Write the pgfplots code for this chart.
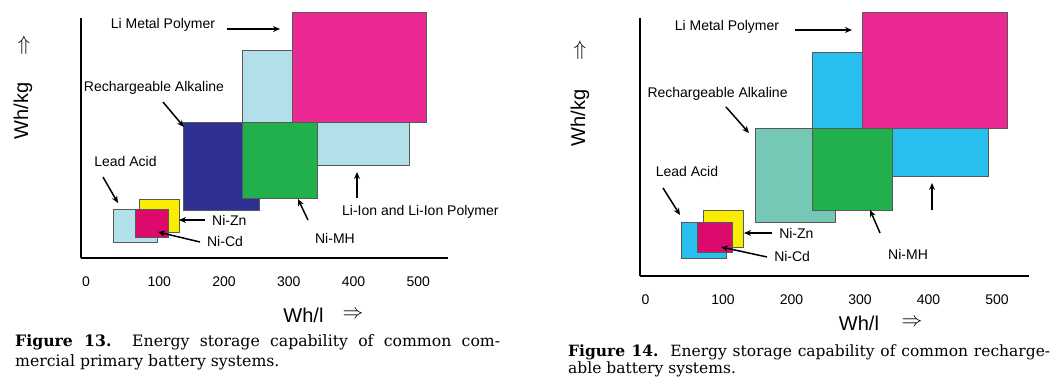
\documentclass[border=0pt]{standalone}
\usepackage{fontspec}
\setmainfont{Liberation Sans}
\newfontfamily\capfont{DejaVu Serif}
\usepackage{pgfplots}
\pgfplotsset{compat=1.18}
\usetikzlibrary{arrows.meta}
\definecolor{lb}{RGB}{178,224,232}
\definecolor{cy}{RGB}{40,190,238}
\definecolor{lmp}{RGB}{236,40,148}
\definecolor{nicd}{RGB}{220,10,108}
\definecolor{nizn}{RGB}{250,238,0}
\definecolor{alk}{RGB}{46,49,146}
\definecolor{teal}{RGB}{118,200,182}
\definecolor{nimh}{RGB}{34,176,76}
\tikzset{
 rect/.style={draw=black!65, line width=0.8pt},
 ann/.style={-{Stealth[length=7pt,width=6pt]}, line width=1.5pt, black},
 lab/.style={font=\fontsize{14}{16}\selectfont},
 big/.style={font=\fontsize{20}{24}\selectfont},
 captxt/.style={anchor=base west, inner sep=0pt, font=\capfont\fontsize{15.7}{18}\selectfont}
}
\pgfplotsset{
 chart/.style={scale only axis, enlargelimits=false, clip=false,
   axis x line*=bottom, axis y line*=left,
   axis line style={line width=2pt, black},
   ytick=\empty, xtick={-13,100,200,300,400,500},
   xticklabels={0,100,200,300,400,500}, xtick style={draw=none},
   xticklabel style={font=\fontsize{14}{16}\selectfont, yshift=-15pt}}
}
\begin{document}
\begin{tikzpicture}
\path[use as bounding box] (0,0) rectangle (1063pt,387pt);
% ---------------- Figure 13 ----------------
\begin{axis}[chart, at={(81pt,129pt)}, anchor=south west,
  width=367pt, height=240pt, xmin=-20.8, xmax=546, ymin=0, ymax=240]
\addplot[rect, fill=lb] coordinates {(229,93) (487,93) (487,208) (229,208)} -- cycle;
\addplot[rect, fill=lmp] coordinates {(305,136) (513,136) (513,246) (305,246)} -- cycle;
\addplot[rect, fill=alk] coordinates {(138,48) (254,48) (254,136) (138,136)} -- cycle;
\addplot[rect, fill=nimh] coordinates {(229,60) (345,60) (345,136) (229,136)} -- cycle;
\addplot[rect, fill=lb] coordinates {(30,16) (97,16) (97,49) (30,49)} -- cycle;
\addplot[rect, fill=nizn] coordinates {(70,26) (130.5,26) (130.5,59) (70,59)} -- cycle;
\addplot[rect, fill=nicd] coordinates {(62.5,21) (113.5,21) (113.5,49) (62.5,49)} -- cycle;
\node[lab] at (axis cs:105.8,233) {Li Metal Polymer};
\draw[ann] (axis cs:204.6,229) -- (axis cs:286.5,229);
\node[lab] at (axis cs:91.9,170) {Rechargeable Alkaline};
\draw[ann] (axis cs:105.8,156) -- (axis cs:138.2,131);
\node[lab] at (axis cs:47.9,96) {Lead Acid};
\draw[ann] (axis cs:13.1,81) -- (axis cs:36.3,55);
\node[lab, anchor=west, inner sep=0pt] at (axis cs:181.5,38) {Ni-Zn};
\draw[ann] (axis cs:170.7,38) -- (axis cs:130.5,38);
\node[lab, anchor=west, inner sep=0pt] at (axis cs:173.7,16) {Ni-Cd};
\draw[ann] (axis cs:162.9,16) -- (axis cs:98.1,26);
\node[lab, anchor=west, inner sep=0pt] at (axis cs:340.5,20) {Ni-MH};
\draw[ann] (axis cs:329.7,38) -- (axis cs:314.3,59);
\node[lab, anchor=west, inner sep=0pt] at (axis cs:382.2,46) {Li-Ion and Li-Ion Polymer};
\draw[ann] (axis cs:405.4,60) -- (axis cs:405.4,86);
\node[big] at (axis cs:322.8,-57) {Wh/l};
\node[big] at (axis cs:399.2,-57) {$\Rightarrow$};
\node[big, rotate=90] at (axis cs:-110.4,147) {Wh/kg};
\node[big] at (axis cs:-108.9,213) {$\Uparrow$};
\end{axis}
% ---------------- Figure 14 ----------------
\begin{axis}[chart, at={(640pt,111pt)}, anchor=south west,
  width=389pt, height=258pt, xmin=-21.2, xmax=546.7, ymin=0, ymax=258]
\addplot[rect, fill=cy] coordinates {(230,100) (488,100) (488,224) (230,224)} -- cycle;
\addplot[rect, fill=lmp] coordinates {(304,148) (514.5,148) (514.5,264) (304,264)} -- cycle;
\addplot[rect, fill=teal] coordinates {(146.7,54) (263.5,54) (263.5,148) (146.7,148)} -- cycle;
\addplot[rect, fill=nimh] coordinates {(230,66) (346.7,66) (346.7,148) (230,148)} -- cycle;
\addplot[rect, fill=cy] coordinates {(38.7,18) (104.4,18) (104.4,54) (38.7,54)} -- cycle;
\addplot[rect, fill=nizn] coordinates {(70.8,29) (129.2,29) (129.2,66) (70.8,66)} -- cycle;
\addplot[rect, fill=nicd] coordinates {(62,24) (113,24) (113,54) (62,54)} -- cycle;
\node[lab] at (axis cs:105.8,249) {Li Metal Polymer};
\draw[ann] (axis cs:205.1,246) -- (axis cs:288.3,246);
\node[lab] at (axis cs:92,182) {Rechargeable Alkaline};
\draw[ann] (axis cs:104.4,169) -- (axis cs:137.9,143);
\node[lab] at (axis cs:47.4,104) {Lead Acid};
\draw[ann] (axis cs:12.4,88) -- (axis cs:37.2,61);
\node[lab, anchor=west, inner sep=0pt] at (axis cs:181.8,43) {Ni-Zn};
\draw[ann] (axis cs:171.5,43) -- (axis cs:130.7,43);
\node[lab, anchor=west, inner sep=0pt] at (axis cs:174.5,19) {Ni-Cd};
\draw[ann] (axis cs:164.2,19) -- (axis cs:97.1,29);
\node[lab, anchor=west, inner sep=0pt] at (axis cs:340.9,22) {Ni-MH};
\draw[ann] (axis cs:329.2,43) -- (axis cs:314.6,66);
\draw[ann] (axis cs:405.1,66) -- (axis cs:405.1,93);
\node[big] at (axis cs:298.5,-47) {Wh/l};
\node[big] at (axis cs:375.9,-47) {$\Rightarrow$};
\node[big, rotate=90] at (axis cs:-108.8,158) {Wh/kg};
\node[big] at (axis cs:-108.8,226) {$\Uparrow$};
\end{axis}
% ---------------- captions ----------------
\node[captxt] at (15pt,40pt) {\makebox[485pt][s]{\textbf{Figure 13.}\ \ Energy storage capability of common com-}};
\node[captxt] at (15pt,20pt) {mercial primary battery systems.};
\node[captxt, font=\capfont\fontsize{15.5}{18}\selectfont] at (568pt,30pt) {\makebox[482pt][s]{\textbf{Figure 14.}\ \ Energy storage capability of common recharge-}};
\node[captxt, font=\capfont\fontsize{15.5}{18}\selectfont] at (568pt,13pt) {able battery systems.};
\end{tikzpicture}
\end{document}
